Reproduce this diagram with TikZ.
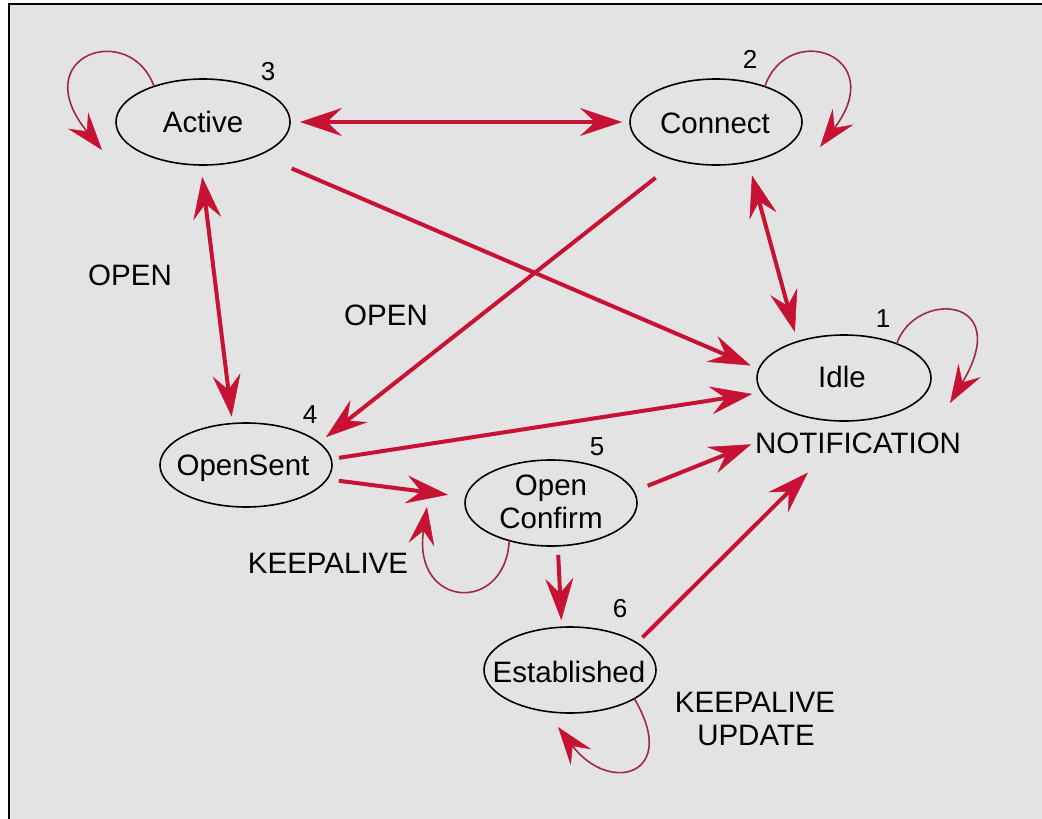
\documentclass[tikz,border=0pt]{standalone}
\usepackage{fontspec}
\setmainfont{Liberation Sans}
\usetikzlibrary{arrows.meta,shapes.geometric}

\definecolor{panel}{RGB}{227,227,227}
\definecolor{arrowred}{RGB}{200,18,52}
\definecolor{loopred}{RGB}{160,40,72}

\tikzset{
  state/.style={ellipse,draw=black,line width=1.6pt,inner sep=0pt,outer sep=0pt},
  txt/.style={font=\fontsize{29.5}{33}\selectfont,anchor=base,inner sep=0pt},
  num/.style={font=\fontsize{26}{30}\selectfont,anchor=base,inner sep=0pt},
  trans/.style={draw=arrowred,line width=4pt},
  bigtip/.tip={Stealth[length=42pt,width=28pt,inset=15pt,line width=0.5pt]},
  fwd/.style={trans,-bigtip},
  both/.style={trans,bigtip-bigtip},
  selfloop/.style={draw=loopred,line width=1.6pt,-{Stealth[length=38pt,width=26pt,inset=14pt,line width=0.5pt,color=arrowred]}},
}

\begin{document}
\begin{tikzpicture}[x=1pt,y=-1pt]
\useasboundingbox (0,0) rectangle (1042,819);
% panel and frame
\fill[white] (0,0) rectangle (1042,819);
\fill[panel] (9,4) rectangle (1042,819);
\draw[line width=2.2pt] (9,819) -- (9,4) -- (1042,4);

% states
\node[state,minimum width=174pt,minimum height=86pt] (act)  at (203,122) {};
\node[state,minimum width=172pt,minimum height=86pt] (con)  at (716,122) {};
\node[state,minimum width=174pt,minimum height=86pt] (idle) at (844,378) {};
\node[state,minimum width=172pt,minimum height=84pt] (os)   at (246,465) {};
\node[state,minimum width=172pt,minimum height=86pt] (oc)   at (551,503) {};
\node[state,minimum width=172pt,minimum height=86pt] (est)  at (570,670) {};

% state names
\node[txt] (actL)  at (203,132) {Active};
\node[txt] (conL)  at (715,133) {Connect};
\node[txt] (idleL) at (842,387) {Idle};
\node[txt] (osL)   at (243,475) {OpenSent};
\node[txt] (ocL1)  at (551,495) {Open};
\node[txt] (ocL2)  at (551,528) {Confirm};
\node[txt] (estL)  at (569,682) {Established};

% state numbers
\node[num] (n3) at (268,80)  {3};
\node[num] (n2) at (750,68)  {2};
\node[num] (n1) at (883,327) {1};
\node[num] (n4) at (310,423) {4};
\node[num] (n5) at (597,455) {5};
\node[num] (n6) at (620,617) {6};

% message labels
\node[txt] (notif) at (858,453) {NOTIFICATION};
\node[txt] (open1) at (130,285) {OPEN};
\node[txt] (open2) at (386,325) {OPEN};
\node[txt] (ka1)   at (328,573) {KEEPALIVE};
\node[txt] (ka2)   at (755,712) {KEEPALIVE};
\node[txt] (upd)   at (756,745) {UPDATE};

% transitions
\draw[both, shorten <=10pt, shorten >=8pt]  (act.east) -- (con.west);
\draw[both, shorten <=12pt, shorten >=7pt]  (act.-93) -- (os.108);
\draw[fwd,  shorten <=35pt, shorten >=9pt]  (act.-30) -- (idle.174);
\draw[fwd,  shorten <=28pt, shorten >=9pt]  (con.225) -- (os.17);
\draw[both, shorten <=14pt, shorten >=10pt] (con.-51) -- (idle.142);
\draw[fwd,  shorten <=8pt,  shorten >=10pt] (os.4) -- (idle.190);
\draw[fwd,  shorten <=12pt, shorten >=18pt] (os.-10) -- (oc.176);
\draw[fwd,  shorten <=15pt, shorten >=4pt]  (oc.8) -- (notif.west);
\draw[fwd,  shorten <=9pt,  shorten >=7pt]  (oc.-81) -- (est.101);
\draw[fwd,  shorten <=8pt,  shorten >=27pt] (est.22) -- (notif.-161);

% self loops
\coordinate (actTip)  at (102,150);
\coordinate (conTip)  at (820,147);
\coordinate (idleTip) at (950,403);
\coordinate (ocTip)   at (427,507);
\coordinate (estTip)  at (558,727);
\draw[selfloop] (act.144) .. controls (130,20) and (25,55) .. (actTip);
\draw[selfloop] (con.36) .. controls (788,20) and (890,55) .. (conTip);
\draw[selfloop] (idle.33) .. controls (915,290) and (1015,295) .. (idleTip);
\draw[selfloop] (oc.-138) .. controls (505,615) and (412,608) .. (ocTip);
\draw[selfloop] (est.-24) .. controls (680,775) and (610,795) .. (estTip);
\end{tikzpicture}
\end{document}
